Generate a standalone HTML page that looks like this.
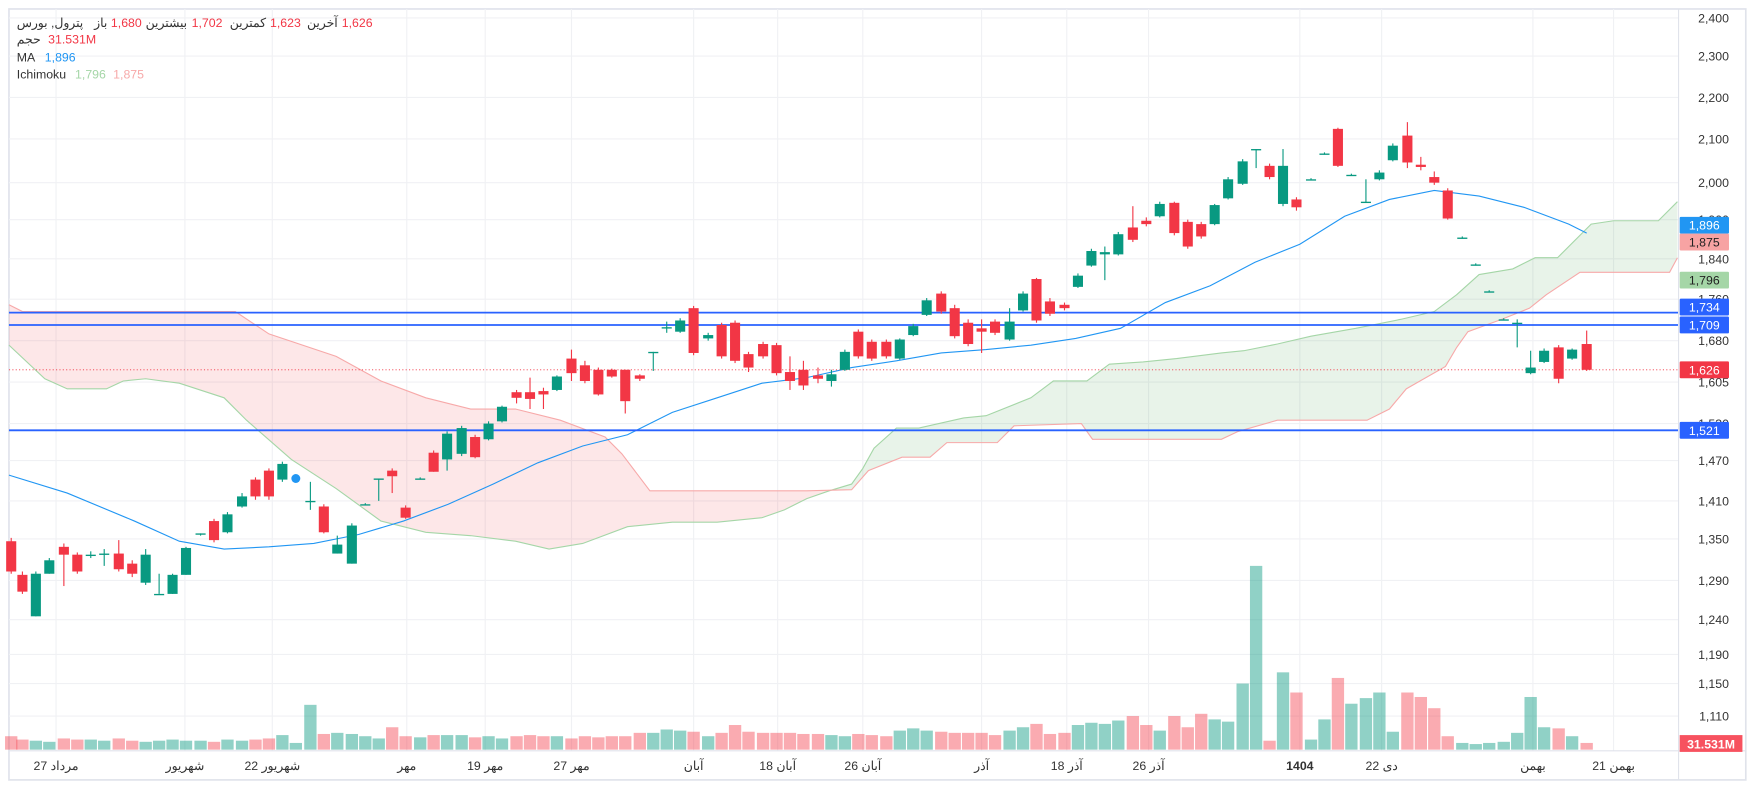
<!DOCTYPE html>
<html><head><meta charset="utf-8"><style>
html,body{margin:0;padding:0;background:#fff;width:1757px;height:790px;overflow:hidden}
svg{display:block}
text{font-family:"Liberation Sans","Noto Sans CJK SC",sans-serif}
</style></head><body>
<svg id="s" width="1757" height="790" viewBox="0 0 1568 705" preserveAspectRatio="none" xmlns="http://www.w3.org/2000/svg">
<rect x="0" y="0" width="1568" height="705" fill="#fff"/>
<rect x="8" y="8" width="1550" height="688" fill="none" stroke="#e0e3eb" stroke-width="1.5"/>
<g id="grid" stroke="#f0f1f4" stroke-width="1"></g>
<g id="cloud"></g>
<g id="vol"></g>
<g id="lines"></g>
<g id="candles"></g>
<line x1="8" y1="670" x2="1558" y2="670" stroke="#e0e3eb"/>
<line x1="1498" y1="8" x2="1498" y2="696" stroke="#e0e3eb"/>
<g id="axis" font-size="11" fill="#333"></g>
<g id="dates" font-size="11" fill="#333"></g>
<g id="labels" font-size="11" font-weight="bold" fill="#fff"></g>
<g font-size="11" fill="#333">
<text x="15" y="24">پترول, بورس</text>
<text x="84" y="24">باز</text><text x="99" y="24" fill="#f23645">1,680</text>
<text x="130" y="24">بیشترین</text><text x="171" y="24" fill="#f23645">1,702</text>
<text x="205" y="24">کمترین</text><text x="241" y="24" fill="#f23645">1,623</text>
<text x="274" y="24">آخرین</text><text x="305" y="24" fill="#f23645">1,626</text>
<text x="15" y="39">حجم</text><text x="43" y="39" fill="#f23645">31.531M</text>
<text x="15" y="55">MA</text><text x="40" y="55" fill="#2196f3">1,896</text>
<text x="15" y="70">Ichimoku</text><text x="67" y="70" fill="#a5d6a7">1,796</text><text x="101" y="70" fill="#f7a9a9">1,875</text>
</g>
</svg>
<script>
const NS="http://www.w3.org/2000/svg";
function el(p,t,a,txt){const e=document.createElementNS(NS,t);for(const k in a)e.setAttribute(k,a[k]);if(txt!==undefined)e.textContent=txt;document.getElementById(p).appendChild(e);return e;}
const ticks=[[2400,16],[2300,50],[2200,87],[2100,124],[2000,163],[1900,196],[1840,231],[1760,267],[1680,304],[1605,341],[1530,378],[1470,411],[1410,447],[1350,481],[1290,518],[1240,553],[1190,584],[1150,610],[1110,639]];
ticks.forEach(t=>{el('grid','line',{x1:8,x2:1498,y1:t[1],y2:t[1]});el('axis','text',{x:1543,y:t[1]+4,'text-anchor':'end'},t[0].toLocaleString('en-US'));});
const dates=[[50,'27 مرداد'],[165,'شهریور'],[243,'22 شهریور'],[363,'مهر'],[433,'19 مهر'],[510,'27 مهر'],[619,'آبان'],[694,'18 آبان'],[770,'26 آبان'],[876,'آذر'],[952,'18 آذر'],[1025,'26 آذر'],[1160,'1404'],[1233,'22 دی'],[1368,'بهمن'],[1440,'21 بهمن']];
dates.forEach(d=>{el('grid','line',{x1:d[0],x2:d[0],y1:8,y2:670});const t=el('dates','text',{x:d[0],y:687,'text-anchor':'middle'},d[1]);if(d[1]=='1404')t.setAttribute('font-weight','bold');});
const A=[[8,308],[40,338],[60,347],[95,347],[110,340],[130,338],[160,342],[200,355],[220,375],[260,410],[300,436],[340,465],[380,475],[420,478],[460,483],[490,490],[520,485],[560,470],[600,466],[640,466],[680,462],[700,455],[720,445],[740,438],[760,432],[770,418],[780,400],[800,382],[820,382],[860,373],[880,371],[920,355],[940,340],[970,340],[990,325],[1020,323],[1050,320],[1090,315],[1110,313],[1140,307],[1170,300],[1210,293],[1250,285],[1280,278],[1300,263],[1320,245],[1350,240],[1370,230],[1390,230],[1420,200],[1440,197],[1480,197],[1497,180]];
const B=[[8,272],[20,278],[210,278],[240,298],[300,318],[340,340],[380,355],[420,365],[460,365],[500,375],[540,390],[555,405],[580,438],[720,438],[760,437],[775,420],[805,408],[830,408],[845,395],[890,395],[905,380],[965,378],[975,392],[1090,392],[1105,385],[1140,375],[1220,375],[1240,365],[1255,347],[1290,327],[1300,310],[1310,296],[1340,285],[1365,275],[1380,263],[1410,243],[1490,243],[1497,230]];
const pts=a=>a.map(p=>p.join(',')).join(' ');
const poly=pts(A)+' '+pts(B.slice().reverse());
el('cloud','defs',{}).innerHTML='<clipPath id="cl"><rect x="0" y="0" width="738" height="705"/></clipPath><clipPath id="cr"><rect x="738" y="0" width="900" height="705"/></clipPath>';
el('cloud','polygon',{points:poly,fill:'rgba(242,54,69,0.12)','clip-path':'url(#cl)'});
el('cloud','polygon',{points:poly,fill:'rgba(67,160,71,0.12)','clip-path':'url(#cr)'});
el('cloud','polyline',{points:pts(A),fill:'none',stroke:'#a5d6a7','stroke-width':1});
el('cloud','polyline',{points:pts(B),fill:'none',stroke:'#f7a9a9','stroke-width':1});
const MA=[[8,424],[60,440],[120,465],[160,483],[200,490],[240,488],[280,485],[320,477],[360,465],[400,450],[440,432],[480,413],[520,398],[560,388],[600,368],[640,355],[680,342],[720,337],[760,328],[800,322],[840,315],[880,312],[920,308],[960,302],[1000,293],[1040,270],[1080,255],[1120,234],[1160,218],[1200,193],[1240,178],[1280,170],[1320,175],[1360,185],[1400,200],[1416,208]];
el('lines','polyline',{points:pts(MA),fill:'none',stroke:'#2196f3','stroke-width':1});
[279,290,384].forEach(y=>el('lines','line',{x1:8,x2:1498,y1:y,y2:y,stroke:'#2962ff','stroke-width':1.6}));
el('lines','line',{x1:8,x2:1498,y1:330,y2:330,stroke:'#f23645','stroke-width':0.8,'stroke-dasharray':'1,2'});
const G='#089981',R='#f23645';
const C=[[10,483,510,480,512,R],[20,513,528,510,530,R],[32,512,550,510,550,G],[44,500,512,498,512,G],[57,488,495,485,523,R],[69,495,510,493,512,R],[81,495,495,492,498,G],[93,494,494,490,505,G],[106,494,508,482,510,R],[118,503,512,500,515,R],[130,495,520,490,522,G],[142,530,530,512,530,G],[154,513,530,512,530,G],[166,489,513,488,513,G],[179,476,476,476,478,G],[191,465,482,463,484,R],[203,459,475,457,476,G],[216,443,452,440,453,G],[228,428,443,426,446,R],[240,420,443,418,446,R],[252,414,428,412,430,G],[277,447,447,430,455,G],[289,452,475,450,476,R],[301,486,494,478,494,G],[314,469,503,467,503,G],[326,450,450,449,451,G],[338,427,427,427,447,G],[350,420,425,418,440,R],[362,453,462,451,463,R],[375,427,427,426,428,G],[387,404,421,402,421,R],[399,387,410,385,420,G],[412,382,405,380,407,G],[424,390,408,388,409,R],[436,378,392,376,393,G],[448,363,376,362,377,G],[461,350,355,348,360,R],[473,350,356,337,365,R],[485,349,352,346,365,R],[497,336,348,335,349,G],[510,320,333,312,340,R],[522,326,340,322,342,R],[534,330,352,328,353,R],[546,330,336,329,337,R],[558,330,358,330,369,R],[571,335,338,334,340,R],[583,314,314,314,331,G],[595,292,292,287,297,G],[607,286,296,284,297,G],[619,275,315,273,317,R],[632,299,302,297,304,G],[644,290,318,288,320,R],[656,288,322,286,324,R],[668,316,328,314,332,R],[681,307,318,305,320,R],[693,308,333,306,335,R],[705,332,340,318,348,R],[717,330,344,322,348,R],[730,335,338,328,342,R],[742,334,340,330,345,G],[754,314,330,312,331,G],[766,296,318,294,320,R],[778,305,320,303,322,R],[791,305,318,303,320,R],[803,303,320,302,321,G],[815,291,299,289,300,G],[827,268,281,266,282,G],[840,262,278,260,280,R],[852,275,300,272,302,R],[864,288,307,285,309,R],[876,293,296,285,315,R],[888,287,297,285,299,R],[901,287,303,275,304,G],[913,262,277,260,278,G],[925,249,286,248,288,R],[937,269,280,266,282,R],[950,272,275,270,277,R],[962,246,256,244,257,G],[974,224,237,222,238,G],[986,225,227,220,250,G],[998,209,227,207,228,G],[1011,203,214,184,216,R],[1023,197,200,194,202,R],[1035,182,193,180,194,G],[1048,181,208,180,210,R],[1060,198,220,196,222,R],[1072,200,211,198,213,R],[1084,183,200,182,201,G],[1096,160,177,158,178,G],[1109,144,164,142,165,G],[1121,133,133,133,150,G],[1133,148,158,146,160,R],[1145,148,182,133,184,G],[1157,178,185,176,188,R],[1170,160,160,159,161,G],[1182,137,137,136,138,G],[1194,115,148,114,149,R],[1206,156,156,155,157,G],[1219,180,180,160,181,G],[1231,154,160,152,161,G],[1243,130,143,128,144,G],[1256,121,145,109,150,R],[1268,147,149,140,152,R],[1280,158,163,153,165,R],[1292,170,195,168,196,R],[1305,212,212,211,213,G],[1317,236,236,235,237,G],[1329,260,260,259,261,G],[1342,285,285,284,286,G],[1354,288,288,285,310,G],[1366,328,333,313,334,G],[1378,313,323,311,324,G],[1391,310,338,308,342,R],[1403,312,320,311,321,G],[1416,307,330,295,331,R]];
// volume by x: [x,h,color]
const VD={10:[12,R],20:[9,R],32:[8,G],44:[7,G],57:[10,R],69:[9,R],81:[9,G],93:[8,G],106:[10,R],118:[8,R],130:[7,G],142:[8,G],154:[9,G],166:[8,G],179:[8,G],191:[7,R],203:[9,G],216:[8,G],228:[9,R],240:[10,R],252:[13,G],264:[6,G],277:[40,G],289:[14,R],301:[15,G],314:[14,G],326:[12,G],338:[10,G],350:[20,R],362:[12,R],375:[11,G],387:[13,R],399:[13,G],412:[13,G],424:[11,R],436:[12,G],448:[10,G],461:[12,R],473:[13,R],485:[12,R],497:[12,G],510:[10,R],522:[12,R],534:[11,R],546:[12,R],558:[12,R],571:[15,R],583:[15,G],595:[18,G],607:[17,G],619:[16,R],632:[12,G],644:[15,R],656:[22,R],668:[16,R],681:[15,R],693:[15,R],705:[15,R],717:[14,R],730:[14,R],742:[13,G],754:[12,G],766:[14,R],778:[13,R],791:[12,R],803:[17,G],815:[19,G],827:[17,G],840:[16,R],852:[15,R],864:[15,R],876:[15,R],888:[13,R],901:[17,G],913:[20,G],925:[23,R],937:[14,R],950:[15,R],962:[22,G],974:[24,G],986:[23,G],998:[26,G],1011:[30,R],1023:[22,R],1035:[17,G],1048:[30,R],1060:[20,R],1072:[32,R],1084:[27,G],1096:[25,G],1109:[59,G],1121:[164,G],1133:[8,R],1145:[69,G],1157:[51,R],1170:[9,G],1182:[27,G],1194:[64,R],1206:[41,G],1219:[46,G],1231:[51,G],1243:[16,G],1256:[51,R],1268:[47,R],1280:[37,R],1292:[12,R],1305:[6,G],1317:[5,G],1329:[6,G],1342:[7,G],1354:[15,G],1366:[47,G],1378:[20,G],1391:[19,R],1403:[12,G],1416:[6,R]};
for(const k in VD){const x=+k,[h,c]=VD[k];el('vol','rect',{x:x-5.5,y:669-h,width:11,height:h,fill:c==G?'rgba(8,153,129,0.45)':'rgba(242,54,69,0.42)'});}
C.forEach(c=>{const [x,bt,bb,wt,wb,col]=c;
el('candles','line',{x1:x,x2:x,y1:wt,y2:wb,stroke:col,'stroke-width':1});
const h=Math.max(1.2,bb-bt);el('candles','rect',{x:x-4.5,y:bt,width:9,height:h,fill:col});});
el('candles','circle',{cx:264,cy:427,r:4,fill:'#2196f3'});
const L=[[201,'1,896','#2196f3'],[216,'1,875','#f7a3a3'],[250,'1,796','#a5d6a7'],[274,'1,734','#2962ff'],[290,'1,709','#2962ff'],[330,'1,626','#f23645'],[384,'1,521','#2962ff']];
L.forEach(l=>{el('labels','rect',{x:1499,y:l[0]-7.5,width:44,height:15,fill:l[2],rx:1});el('labels','text',{x:1521,y:l[0]+4,'text-anchor':'middle',fill:l[2]=='#a5d6a7'||l[2]=='#f7a3a3'?'#222':'#fff','font-weight':'normal'},l[1]);});
el('labels','rect',{x:1499,y:656,width:56,height:15,fill:'#f7525f'});
el('labels','text',{x:1527,y:668,'text-anchor':'middle'},'31.531M');
</script>
</body></html>
